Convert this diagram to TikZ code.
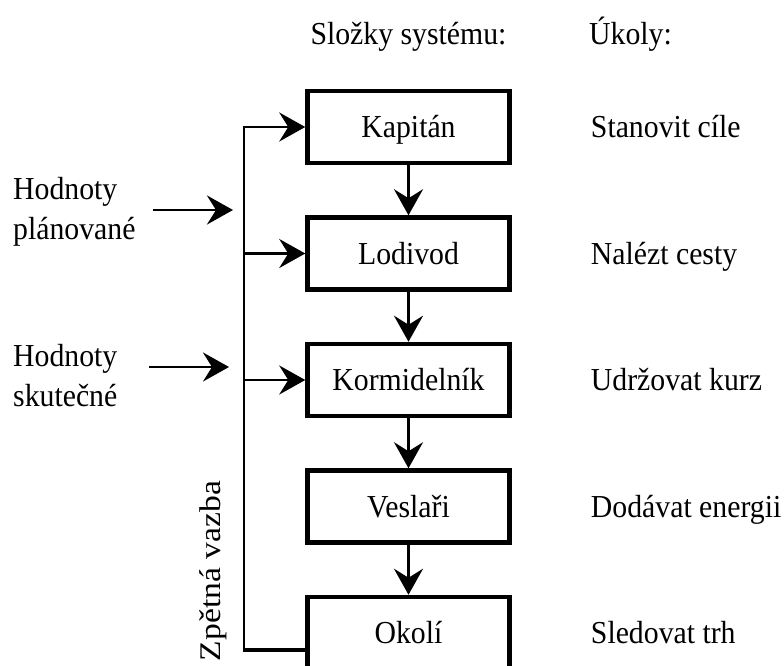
\documentclass[tikz,border=0pt]{standalone}
\usepackage{fontspec}
\setmainfont{Liberation Serif}[FakeStretch=0.93]
\newfontfamily\rotfont{Liberation Serif}[FakeStretch=1.12]
\usetikzlibrary{positioning,arrows.meta}
\tikzset{
  compbox/.style={draw, line width=4.5pt, minimum width=202pt, minimum height=72pt, inner sep=0pt,
    text height=21pt, text depth=0pt},
  tasktext/.style={inner sep=0pt},
  inlabel/.style={align=left, anchor=west, inner sep=0pt},
  flow/.style={-{Stealth[length=26pt, width=29pt, inset=9pt]}, line width=2.6pt},
  fbfoot/.style={line width=4.5pt},
}
\begin{document}
\begin{tikzpicture}[x=1pt, y=-1pt, font=\fontsize{32}{40}\selectfont]
  \useasboundingbox (0,0) rectangle (784,666);
  \clip (0,0) rectangle (784,666);
  \node[compbox] (kapitan) at (408.5,127) {Kapitán};
  \node[compbox, below=50pt of kapitan] (lodivod) {Lodivod};
  \node[compbox, below=50pt of lodivod] (kormidelnik) {Kormidelník};
  \node[compbox, below=50pt of kormidelnik] (veslari) {Veslaři};
  \node[compbox, below=50pt of veslari] (okoli) {Okolí};
  \node[tasktext, anchor=base] (hdrcomp) at (408.5,45) {Složky systému:};
  \node[tasktext, anchor=base west] (hdrtask) at (589,45) {Úkoly:};
  \node[tasktext, right=79pt of kapitan.base east, anchor=base west] (tkapitan) {Stanovit cíle};
  \node[tasktext, right=79pt of lodivod.base east, anchor=base west] (tlodivod) {Nalézt cesty};
  \node[tasktext, right=79pt of kormidelnik.base east, anchor=base west] (tkormidelnik) {Udržovat kurz};
  \node[tasktext, right=79pt of veslari.base east, anchor=base west] (tveslari) {Dodávat energii};
  \node[tasktext, right=79pt of okoli.base east, anchor=base west] (tokoli) {Sledovat trh};
  \node[inlabel] (plan) at (13,212) {Hodnoty\\plánované};
  \node[inlabel] (skut) at (13,376) {Hodnoty\\skutečné};
  \node[rotate=90, font=\rotfont\fontsize{30}{34}\selectfont] (fbtext) at (213,571) {Zpětná vazba};
  \coordinate (planfrom) at (153,210);
  \coordinate (planto) at (233,210);
  \coordinate (skutfrom) at (149,367);
  \coordinate (skutto) at (229,367);
  \coordinate (fbcorner) at (244,650);
  \draw[flow] (planfrom) -- (planto);
  \draw[flow] (skutfrom) -- (skutto);
  \draw[fbfoot] (okoli.west |- fbcorner) -- ([xshift=-1.3pt]fbcorner);
  \draw[flow] (fbcorner) |- (kapitan.west);
  \draw[flow] (fbcorner |- lodivod.west) -- (lodivod.west);
  \draw[flow] (fbcorner |- kormidelnik.west) -- (kormidelnik.west);
  \foreach \a/\b in {kapitan/lodivod, lodivod/kormidelnik, kormidelnik/veslari, veslari/okoli}
    \draw[flow] (\a) -- (\b);
\end{tikzpicture}
\end{document}
